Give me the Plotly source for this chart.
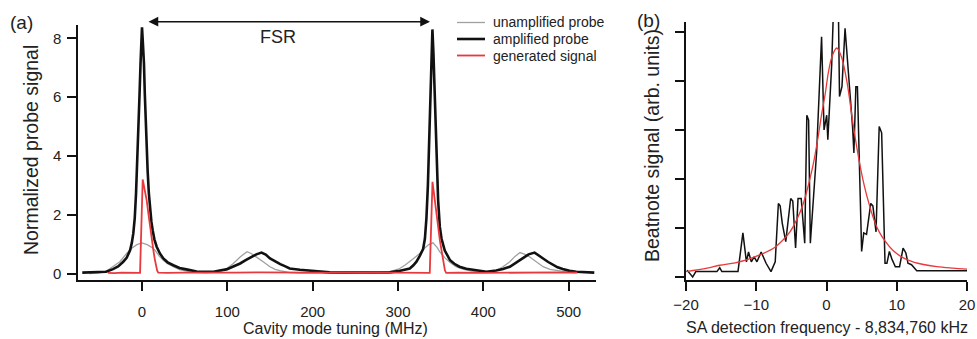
import plotly.graph_objects as go

W, H = 977, 339

# ---------------- Panel (a) data ----------------
a_x_ticks = [0, 100, 200, 300, 400, 500]
a_y_ticks = [0, 2, 4, 6, 8]

amp_x = [-70, -55, -42, -34, -28, -22, -18, -14, -12, -10.2, -8.5, -7, -5.5, -4.3, -3, -1.6, 0,
         1, 2.3, 3.3, 4.3, 5.5, 6.6, 8, 9.4, 11, 12.5, 14.5, 17.2, 21, 25, 30, 36.7, 44, 52, 64, 76,
         84, 91, 99, 107, 115, 122, 128, 134, 140, 145, 150, 156, 162, 168, 173, 185, 197, 210,
         220, 235, 250, 265, 280, 290, 300, 307, 313.8, 318, 321.6, 325.5, 329.4, 331.5, 333.3,
         335, 336.5, 338.5, 340.3, 341.5, 342.5, 343.5, 344.5, 345.5, 347, 349, 351, 354.8, 358,
         361, 366, 372, 380, 388, 396, 403.6, 415, 423, 431, 439, 446.5, 453, 460, 465, 470, 476,
         481.6, 487, 493, 501, 509, 520, 530]
amp_y = [0.05, 0.06, 0.08, 0.17, 0.26, 0.42, 0.55, 0.81, 1.05, 1.38, 1.9, 2.73, 3.8, 4.88, 6.0, 7.25, 8.37,
         7.85, 7.14, 6.1, 5.2, 4.3, 3.5, 2.75, 2.17, 1.78, 1.49, 1.18, 0.93, 0.7, 0.53, 0.4, 0.3, 0.21, 0.16, 0.09, 0.08,
         0.08, 0.12, 0.16, 0.26, 0.36, 0.48, 0.59, 0.67, 0.73, 0.66, 0.53, 0.43, 0.34, 0.26, 0.19, 0.15, 0.12, 0.09,
         0.06, 0.05, 0.05, 0.05, 0.05, 0.06, 0.1, 0.14, 0.19, 0.3, 0.42, 0.62, 0.85, 1.2, 1.9,
         3.0, 4.6, 6.9, 8.3, 7.5, 6.5, 5.3, 4.3, 3.4, 2.5, 1.6, 1.2, 0.8, 0.6,
         0.47, 0.35, 0.25, 0.18, 0.14, 0.1, 0.08, 0.12, 0.17, 0.25, 0.4, 0.56, 0.67, 0.73, 0.64, 0.53, 0.41,
         0.31, 0.23, 0.17, 0.11, 0.08, 0.06, 0.05]

unamp_x = [-62, -50, -42, -34, -26, -18, -12, -6, 0, 6, 12, 15.2, 20, 25, 30, 36.7, 44, 52, 62, 75,
           85, 91, 99, 107, 115, 123, 128, 134, 142, 150, 156, 161.6, 167, 173, 185, 210, 240, 270,
           290, 296, 302, 308, 313.8, 319, 325.5, 331, 336, 341, 346, 349, 355, 360.7, 368, 376,
           386, 396, 405, 415, 423, 431, 437, 443, 448, 454, 462, 470, 478, 485.5, 493, 501, 508]
unamp_y = [0.02, 0.04, 0.1, 0.25, 0.42, 0.7, 0.88, 1.0, 1.06, 1.0, 0.9, 0.81, 0.62, 0.47, 0.35, 0.25, 0.15, 0.1, 0.06, 0.04,
           0.05, 0.08, 0.18, 0.36, 0.58, 0.76, 0.7, 0.59, 0.42, 0.25, 0.16, 0.12, 0.08, 0.05, 0.03, 0.03, 0.03, 0.04,
           0.08, 0.13, 0.19, 0.3, 0.42, 0.55, 0.7, 0.88, 1.0, 1.06, 0.9, 0.75, 0.55, 0.4, 0.25, 0.17,
           0.1, 0.07, 0.06, 0.12, 0.25, 0.42, 0.6, 0.73, 0.68, 0.59, 0.42, 0.25, 0.16, 0.12, 0.08, 0.06, 0.04]

gen_x = [-40, -32, -24, -16, -8, -2.3, 0.8, 3, 5.5, 7.5, 9.4, 11.5, 13.3, 15, 16.4, 17.8, 19.1,
         30, 50, 80, 110, 140, 170, 200, 230, 260, 290, 320, 337.2, 340.4, 343, 346, 349, 352, 355, 356.5,
         370, 400, 430, 460, 490, 510]
gen_y = [0.04, 0.03, 0.05, 0.04, 0.05, 0.04, 3.21, 2.9, 2.5, 2.05, 1.6, 1.2, 0.81, 0.5, 0.25, 0.12, 0.05,
         0.04, 0.05, 0.04, 0.05, 0.06, 0.05, 0.06, 0.05, 0.04, 0.05, 0.04, 0.04, 3.13, 2.6, 1.85, 1.15, 0.55, 0.12, 0.04,
         0.05, 0.04, 0.05, 0.05, 0.06, 0.05]

legend_names = ["unamplified probe", "amplified probe", "generated signal"]

# ---------------- Panel (b) data ----------------
b_x_ticks = [-20, -10, 0, 10, 20]
b_y_ticks = [0, 1, 2, 3, 4, 5]

beat_x = [-19.85, -19.05, -18.6, -15.6, -15.2, -14.9, -12.6, -11.9, -11.4, -11.1, -10.7, -10.3, -9.9,
          -9.3, -8.6, -7.9, -7.3, -6.85, -6.6, -6.3, -5.8, -5.5, -5.1, -4.8, -4.4, -4.05, -3.6, -3.1,
          -2.8, -2.55, -2.3, -1.4, -1.0, -0.7, -0.35, 0.03, 0.19, 0.5, 0.74, 0.98, 1.7, 1.85, 2.2,
          2.64, 2.88, 3.25, 3.72, 3.9, 4.18, 4.4, 5.0, 5.3, 5.7, 6.3, 6.6, 7.05, 7.5, 7.85, 8.33,
          8.6, 8.95, 9.3, 9.8, 10.4, 10.9, 11.3, 11.6, 12.1, 12.85, 20]
beat_y = [0.14, 0.0, 0.11, 0.11, 0.19, 0.11, 0.11, 0.9, 0.31, 0.51, 0.31, 0.41, 0.31,
          0.51, 0.28, 0.11, 0.31, 1.5, 1.45, 1.1, 0.72, 1.1, 1.6, 1.55, 0.59, 1.6, 1.6, 0.69,
          3.3, 3.2, 0.69, 2.56, 4.0, 4.9, 3.0, 3.3, 2.8, 3.6, 4.33, 5.4, 5.4, 3.68, 3.88,
          5.07, 4.56, 3.92, 3.04, 2.53, 3.88, 3.88, 0.52, 0.9, 0.87, 1.5, 1.45, 0.92, 3.07, 2.94, 0.28,
          0.28, 0.52, 0.37, 0.21, 0.21, 0.59, 0.49, 0.28, 0.25, 0.13, 0.13]

fit_x = [-20, -17, -15.2, -13, -11.4, -9.5, -7.6, -6.3, -5.2, -4.2, -3.3, -2.5, -1.9, -1.2, -0.7, -0.2,
         0.3, 0.8, 1.45, 2.1, 2.9, 3.8, 4.75, 5.4, 6.1, 6.8, 7.5, 8.4, 9.4, 10.8, 12.3, 14, 15.7, 18, 20]
fit_y = [0.11, 0.18, 0.24, 0.29, 0.35, 0.45, 0.58, 0.74, 0.92, 1.18, 1.5, 1.92, 2.29, 2.85, 3.31, 3.72,
         4.2, 4.5, 4.67, 4.5, 3.99, 3.1, 2.29, 1.85, 1.47, 1.15, 0.92, 0.72, 0.55, 0.4, 0.31, 0.25, 0.21, 0.18, 0.16]

# ---------------- styles ----------------
GRAY = "#a0a0a0"
BLACK = "#111111"
RED = "#e8393c"
TXT = "#222222"
FONT = "Liberation Sans, Arial, sans-serif"


def px(x):
    return x / W


def py(y):
    return (H - y) / H


fig = go.Figure()
fig.add_trace(go.Scatter(x=unamp_x, y=unamp_y, mode="lines", name=legend_names[0],
                         line=dict(color=GRAY, width=1.3), xaxis="x", yaxis="y", showlegend=False))
fig.add_trace(go.Scatter(x=amp_x, y=amp_y, mode="lines", name=legend_names[1],
                         line=dict(color=BLACK, width=2.6), xaxis="x", yaxis="y", showlegend=False))
fig.add_trace(go.Scatter(x=gen_x, y=gen_y, mode="lines", name=legend_names[2],
                         line=dict(color=RED, width=1.8), xaxis="x", yaxis="y", showlegend=False))
fig.add_trace(go.Scatter(x=beat_x, y=beat_y, mode="lines", name="beatnote",
                         line=dict(color=BLACK, width=1.5), xaxis="x2", yaxis="y2", showlegend=False))
fig.add_trace(go.Scatter(x=fit_x, y=fit_y, mode="lines", name="fit", line_shape="spline",
                         line=dict(color=RED, width=1.3), xaxis="x2", yaxis="y2", showlegend=False))

axis_common = dict(showline=True, linecolor=BLACK, linewidth=1.5, ticks="outside", ticklen=9,
                   tickwidth=1.5, tickcolor=BLACK, showgrid=False, zeroline=False, automargin=False,
                   tickfont=dict(family=FONT, size=15, color=TXT))

fig.update_layout(
    template="none",
    width=W, height=H, margin=dict(l=0, r=0, t=0, b=0, pad=0), autosize=False,
    paper_bgcolor="white", plot_bgcolor="white",
    font=dict(family=FONT, color=TXT),
    xaxis=dict(domain=[px(78), px(596)], range=[-75, 532], tickvals=a_x_ticks,
               anchor="y", ticklabelstandoff=8, **axis_common),
    yaxis=dict(domain=[py(280), py(25)], range=[-0.2, 8.45], tickvals=a_y_ticks,
               anchor="x", ticklabelstandoff=3, **axis_common),
    xaxis2=dict(domain=[px(686), px(967)], range=[-20, 20], tickvals=b_x_ticks,
                anchor="y2", ticklabelstandoff=1, **axis_common),
    yaxis2=dict(domain=[py(280), py(22)], range=[-0.061, 5.2], tickvals=b_y_ticks,
                showticklabels=False, anchor="x2", **axis_common),
)


def label(text, x, y, size, angle=0, xanchor="center"):
    return dict(text=text, x=px(x), y=py(y), xref="paper", yref="paper", textangle=angle,
                xanchor=xanchor, yanchor="middle", showarrow=False,
                font=dict(size=size, family=FONT, color=TXT))


ann = [
    label("Normalized probe signal", 31, 150, 19.5, -90),
    label("Cavity mode tuning (MHz)", 335, 328, 16),
    label("Beatnote signal (arb. units)", 652, 146, 19.5, -90),
    label("SA detection frequency - 8,834,760 kHz", 827, 327, 16),
    label("(a)", 21.5, 22, 19),
    label("(b)", 648, 20, 19),
    label("FSR", 278, 37.5, 18),
]
# FSR double arrow (between the two amplified-probe peaks)
ann.append(dict(text="", x=px(430), y=py(21.7), xref="paper", yref="paper",
                ax=-283, ay=0, axref="pixel", ayref="pixel",
                showarrow=True, arrowhead=2, startarrowhead=2, arrowside="end+start",
                arrowsize=1.3, arrowwidth=1.5, arrowcolor=BLACK))

# manual legend
leg_rows = [22.5, 39, 55.5]
leg_colors = [GRAY, BLACK, RED]
leg_widths = [1.3, 2.6, 1.8]
shapes = []
for name, yy, c, w in zip(legend_names, leg_rows, leg_colors, leg_widths):
    shapes.append(dict(type="line", xref="paper", yref="paper", x0=px(457), x1=px(485),
                       y0=py(yy), y1=py(yy), line=dict(color=c, width=w)))
    ann.append(label(name, 491, yy, 14, xanchor="left"))

fig.update_layout(annotations=ann, shapes=shapes)
fig.write_html("out.html")
